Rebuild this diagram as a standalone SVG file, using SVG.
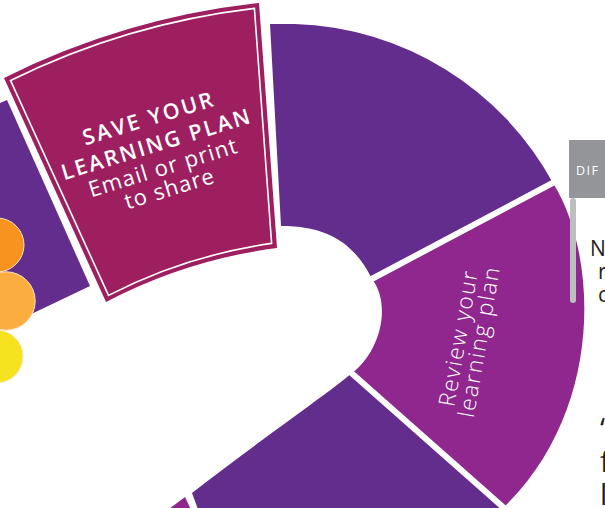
<svg xmlns="http://www.w3.org/2000/svg" width="605" height="508" viewBox="0 0 605 508">
  <style>
    .purple { fill: #632D8E; }
    .magenta { fill: #8F278E; }
    .card { fill: #9E1F5F; }
    .gap { stroke: #FFFFFF; stroke-width: 6; fill: none; }
    .wt { fill: #FFFFFF; font-family: "Open Sans", "Liberation Sans", sans-serif; }
    .bold { font-weight: 600; font-size: 21.5px; }
    .reg { font-weight: 400; font-size: 22px; }
    .light { font-weight: 300; font-size: 22.5px; }
    .dark { fill: #231F20; font-family: "Open Sans", "Liberation Sans", sans-serif; }
    .dot { stroke: #FCE6C6; stroke-width: 1; }
  </style>
  <rect width="605" height="508" fill="#FFFFFF"/>

  <g id="ring">
    <g id="seg-left">
      <path class="purple" d="M0,103 L7,100 L90,286 L0,329 Z"/>
    </g>
    <g id="seg-top">
      <path class="purple" d="M270,24 L295,24 A305 305 0 0 1 553,183 L372,279 C355,245 330,226 281,226 Z"/>
    </g>
    <g id="seg-review">
      <path class="magenta" d="M553,183 C598,255 605,410 503,508 L352,373 C380,352 392,305 372,279 Z"/>
      <g transform="translate(466,340) rotate(-80)">
        <text class="wt light" x="0" y="0" text-anchor="middle" textLength="137" lengthAdjust="spacing">Review your</text>
        <text class="wt light" x="0" y="21" text-anchor="middle" textLength="152" lengthAdjust="spacing">learning plan</text>
      </g>
    </g>
    <g id="seg-bottom">
      <path class="purple" d="M352,373 C330,392 260,440 192,493 L199,512 L508,512 Z"/>
    </g>
    <g id="seg-bottom-left">
      <path class="magenta" d="M185,497 L192,512 L165,512 Z"/>
    </g>
  </g>

  <g id="connectors">
    <line class="gap" x1="562" y1="178" x2="366" y2="282"/>
    <line class="gap" x1="348" y1="370" x2="512" y2="515"/>
  </g>

  <g id="card-save">
    <path class="card" d="M4,78 A754 754 0 0 1 259,3 L277,248 A508 508 0 0 0 106,302 Z"/>
    <path d="M10.6,80.5 A749 749 0 0 1 254.4,8.4 L271.6,243.4 A513 513 0 0 0 108.5,295.4 Z" fill="none" stroke="#FFFFFF" stroke-width="1.6"/>
    <g transform="rotate(-17)">
      <text class="wt bold" x="106.5" y="164" text-anchor="middle" textLength="135" lengthAdjust="spacing">SAVE YOUR</text>
      <text class="wt bold" x="106.5" y="191" text-anchor="middle" textLength="196" lengthAdjust="spacing">LEARNING PLAN</text>
      <text class="wt reg" x="106.5" y="215.5" text-anchor="middle" textLength="154" lengthAdjust="spacing">Email or print</text>
      <text class="wt reg" x="106.5" y="237.5" text-anchor="middle" textLength="92" lengthAdjust="spacing">to share</text>
    </g>
  </g>

  <g id="dots">
    <circle class="dot" cx="-3" cy="245" r="27" fill="#F7931E"/>
    <circle class="dot" cx="-3.5" cy="356.5" r="26.5" fill="#F4E31E"/>
    <circle class="dot" cx="6" cy="301" r="29.2" fill="#FBAD40"/>
  </g>

  <g id="flag">
    <rect x="570" y="198" width="6" height="105" rx="3" fill="#BCBEC0"/>
    <rect x="569" y="140" width="40" height="58" fill="#939598"/>
    <text x="576" y="175" font-family="'Open Sans', 'Liberation Sans', sans-serif" font-size="12.5" letter-spacing="1.5" fill="#FFFFFF">DIF</text>
  </g>

  <g id="side-text">
    <text class="dark" x="590" y="256" font-size="21">N</text>
    <text class="dark" x="598" y="279" font-size="21">r</text>
    <text class="dark" x="598" y="302" font-size="21">c</text>
    <text class="dark" x="600" y="439" font-size="29">“</text>
    <text class="dark" x="600" y="472" font-size="29">f</text>
    <text class="dark" x="600" y="505" font-size="29">l</text>
  </g>
</svg>
